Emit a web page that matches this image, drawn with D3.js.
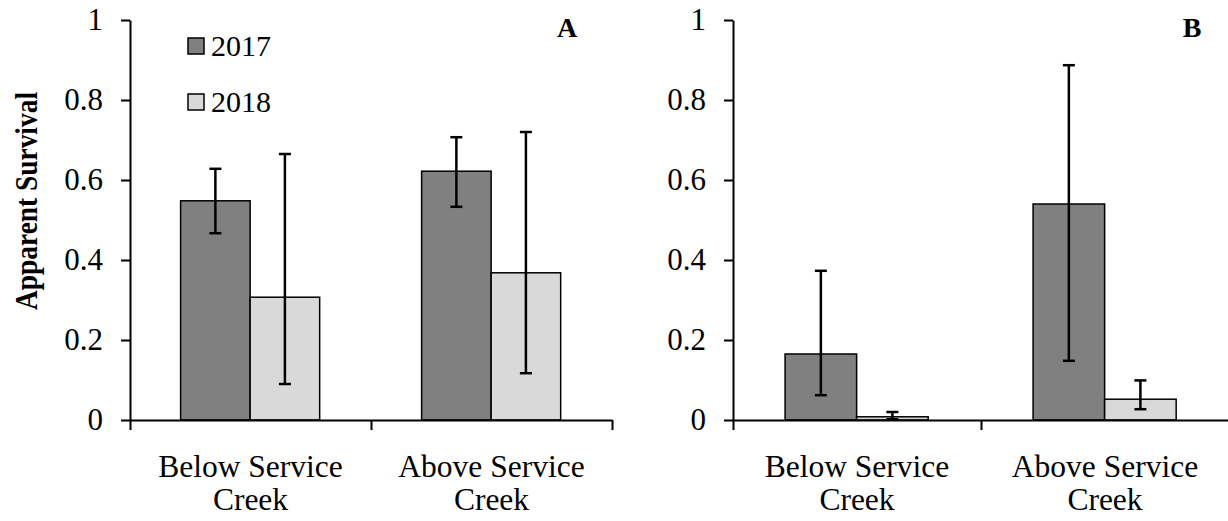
<!DOCTYPE html>
<meta charset="utf-8">

<head>
    <title>Apparent survival</title>
</head>

<style>
    body { margin: 0; background: #fff; }
    text { font-family: "Liberation Serif", "Times New Roman", serif; fill: #000; }
    .axis path, .axis line { stroke: #000; stroke-width: 2px; }
    .axis text { font-size: 31px; font-family: "Liberation Serif", "Times New Roman", serif; }
</style>

<body>
    <svg width="1228" height="521"></svg>

    <script src="https://cdnjs.cloudflare.com/ajax/libs/d3/7.8.5/d3.min.js"></script>
    <script>
        var categories = ['Below Service Creek', 'Above Service Creek']
        var categoryLines = [['Below Service', 'Creek'], ['Above Service', 'Creek']]
        var years = ['2017', '2018']
        var yTicks = [0, 0.2, 0.4, 0.6, 0.8, 1]

        // panel A
        var a2017 = [0.548, 0.622]
        var a2017Lo = [0.467, 0.533]
        var a2017Hi = [0.628, 0.707]
        var a2018 = [0.307, 0.368]
        var a2018Lo = [0.090, 0.117]
        var a2018Hi = [0.665, 0.720]

        // panel B
        var b2017 = [0.165, 0.540]
        var b2017Lo = [0.062, 0.148]
        var b2017Hi = [0.373, 0.887]
        var b2018 = [0.008, 0.052]
        var b2018Lo = [0.002, 0.027]
        var b2018Hi = [0.020, 0.099]

        var colors = { '2017': '#808080', '2018': '#d9d9d9' }
        var svg = d3.select('svg')
        var plotTop = 20, plotBottom = 420

        var y = d3.scaleLinear().domain([0, 1]).range([plotBottom, plotTop])

        function rows(vals, lo, hi, year) {
            return categories.map(function (c, i) {
                return { cat: c, year: year, v: vals[i], lo: lo[i], hi: hi[i] }
            })
        }

        function drawPanel(left, right, letter, letterX, data) {
            var g = svg.append('g')

            var x0 = d3.scaleBand().domain(categories).range([left, right]).padding(0)
            var bw = x0.bandwidth()
            var x1 = d3.scaleBand().domain(years).range([bw * 0.21, bw * 0.787]).padding(0)

            // bars
            g.selectAll('rect.bar')
                .data(data)
                .enter()
                .append('rect')
                .attr('class', 'bar')
                .attr('x', function (d) { return x0(d.cat) + x1(d.year) })
                .attr('y', function (d) { return y(d.v) })
                .attr('width', x1.bandwidth())
                .attr('height', function (d) { return y(0) - y(d.v) })
                .attr('fill', function (d) { return colors[d.year] })
                .attr('stroke', '#000')
                .attr('stroke-width', 1.5)

            // error bars
            var eb = g.selectAll('g.err')
                .data(data)
                .enter()
                .append('g')
                .attr('transform', function (d) {
                    return 'translate(' + (x0(d.cat) + x1(d.year) + x1.bandwidth() / 2) + ',0)'
                })
            eb.append('line')
                .attr('y1', function (d) { return y(d.lo) })
                .attr('y2', function (d) { return y(d.hi) })
                .attr('stroke', '#000').attr('stroke-width', 2.5)
            eb.append('line')
                .attr('x1', -6).attr('x2', 6)
                .attr('y1', function (d) { return y(d.hi) })
                .attr('y2', function (d) { return y(d.hi) })
                .attr('stroke', '#000').attr('stroke-width', 2.5)
            eb.append('line')
                .attr('x1', -6).attr('x2', 6)
                .attr('y1', function (d) { return y(d.lo) })
                .attr('y2', function (d) { return y(d.lo) })
                .attr('stroke', '#000').attr('stroke-width', 2.5)

            // y axis
            var ya = g.append('g')
                .attr('class', 'axis')
                .attr('transform', 'translate(' + left + ',0)')
                .call(d3.axisLeft(y).tickValues(yTicks).tickSize(9).tickSizeOuter(0).tickPadding(18)
                    .tickFormat(function (d) { return (d === 0 || d === 1) ? d : d.toFixed(1) }))
            ya.selectAll('text').attr('font-size', 31).attr('font-family', null)

            // x axis with ticks at category boundaries
            var xb = d3.scaleLinear().domain([0, categories.length]).range([left, right])
            g.append('g')
                .attr('class', 'axis')
                .attr('transform', 'translate(0,' + plotBottom + ')')
                .call(d3.axisBottom(xb).tickValues([0, 1, 2]).tickSize(10).tickSizeOuter(0).tickFormat(''))

            // category labels
            var lab = g.selectAll('text.cat')
                .data(categories)
                .enter()
                .append('text')
                .attr('class', 'cat')
                .attr('text-anchor', 'middle')
                .attr('font-size', 31.5)
                .attr('y', 477)
            lab.selectAll('tspan')
                .data(function (d, i) { return categoryLines[i].map(function (t) { return { t: t, c: d } }) })
                .enter()
                .append('tspan')
                .attr('x', function (d) { return x0(d.c) + bw / 2 })
                .attr('dy', function (d, i) { return i ? 33 : 0 })
                .text(function (d) { return d.t })

            g.append('text')
                .attr('x', letterX).attr('y', 37)
                .attr('text-anchor', 'middle')
                .attr('font-weight', 'bold')
                .attr('font-size', 28)
                .text(letter)
        }

        drawPanel(130, 612, 'A', 567,
            rows(a2017, a2017Lo, a2017Hi, '2017').concat(rows(a2018, a2018Lo, a2018Hi, '2018')))
        drawPanel(733, 1229, 'B', 1192,
            rows(b2017, b2017Lo, b2017Hi, '2017').concat(rows(b2018, b2018Lo, b2018Hi, '2018')))

        // y axis title
        svg.append('text')
            .attr('transform', 'translate(37,201) rotate(-90)')
            .attr('text-anchor', 'middle')
            .attr('font-weight', 'bold')
            .attr('font-size', 31)
            .attr('textLength', 218)
            .attr('lengthAdjust', 'spacingAndGlyphs')
            .text('Apparent Survival')

        // legend
        var leg = svg.selectAll('g.legend')
            .data(years)
            .enter()
            .append('g')
            .attr('class', 'legend')
            .attr('transform', function (d, i) { return 'translate(188,' + (38 + i * 56) + ')' })
        leg.append('rect')
            .attr('width', 16).attr('height', 16)
            .attr('fill', function (d) { return colors[d] })
            .attr('stroke', '#000').attr('stroke-width', 1.5)
        leg.append('text')
            .attr('x', 23).attr('y', 18)
            .attr('font-size', 30)
            .text(function (d) { return d })
    </script>
</body>

</html>
